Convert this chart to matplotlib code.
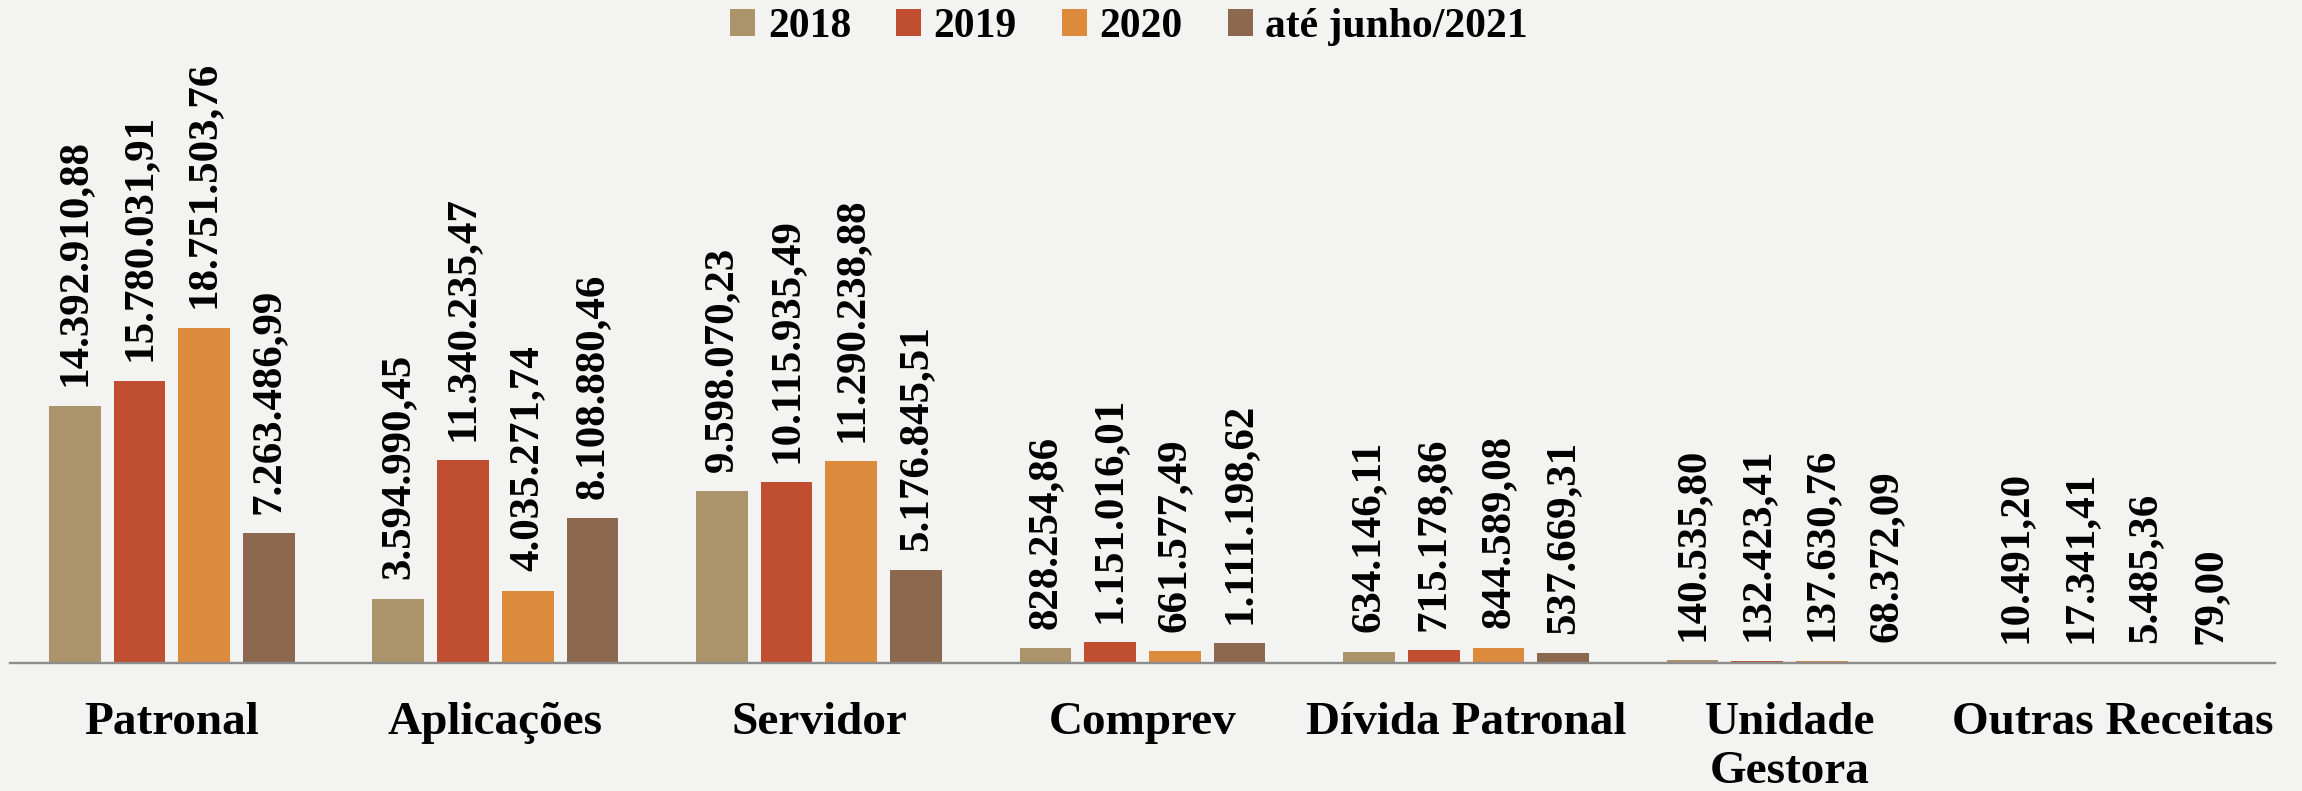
import matplotlib
matplotlib.use("Agg")
import matplotlib.pyplot as plt
import numpy as np

categories = ["Patronal", "Aplicações", "Servidor", "Comprev", "Dívida Patronal",
              "Unidade\nGestora", "Outras Receitas"]
series_names = ["2018", "2019", "2020", "até junho/2021"]
v2018 = [14392910.88, 3594990.45, 9598070.23, 828254.86, 634146.11, 140535.80, 10491.20]
v2019 = [15780031.91, 11340235.47, 10115935.49, 1151016.01, 715178.86, 132423.41, 17341.41]
v2020 = [18751503.76, 4035271.74, 11290238.88, 661577.49, 844589.08, 137630.76, 5485.36]
v2021 = [7263486.99, 8108880.46, 5176845.51, 1111198.62, 537669.31, 68372.09, 79.00]
colors = ["#AC946A", "#C04F32", "#DC8A3C", "#8C694E"]

series = [v2018, v2019, v2020, v2021]

def fmt_br(v):
    s = f"{v:,.2f}"
    return s.replace(",", "X").replace(".", ",").replace("X", ".")

W, H = 2302, 791
fig = plt.figure(figsize=(W / 100, H / 100), dpi=100)
bg = "#F3F3F1"
fig.patch.set_facecolor(bg)

font = "Liberation Serif"
plt.rcParams["font.family"] = [font, "DejaVu Serif"]
plt.rcParams["font.weight"] = "bold"

left_px, right_px, base_px, top_px = 10, 2275, 663, 60
ax = fig.add_axes([left_px / W, 1 - base_px / H, (right_px - left_px) / W, (base_px - top_px) / H])
ax.set_facecolor(bg)
ax.patch.set_alpha(0)

n = len(categories)
x = np.arange(n) + 0.5
bw = 0.16
step = 0.2
for j, (vals, name, c) in enumerate(zip(series, series_names, colors)):
    xs = x + (j - 1.5) * step
    ax.bar(xs, vals, width=bw, color=c, label=name, zorder=2)
    for xi, v in zip(xs, vals):
        ax.annotate(fmt_br(v), (xi, v), xytext=(0, 14), textcoords="offset points",
                    rotation=90, ha="center", va="bottom", fontsize=31,
                    fontweight="bold", color="black", family=font)

ax.set_xlim(0, n)
ax.set_ylim(0, (base_px - top_px) / 17.88 * 1e6)
ax.set_yticks([])
ax.set_xticks(x)
ax.set_xticklabels(categories, fontsize=34, fontweight="bold", family=font, linespacing=1.22)
ax.tick_params(axis="x", length=0, pad=28)
for s in ["top", "right", "left"]:
    ax.spines[s].set_visible(False)
ax.spines["bottom"].set_color("#8C8C8C")
ax.spines["bottom"].set_linewidth(1.7)
ax.spines["bottom"].set_zorder(3)

fig.legend(loc="center", bbox_to_anchor=(0.5 - 22 / W, 1 - 27 / H), ncol=4, frameon=False,
           prop={"family": font, "weight": "bold", "size": 30},
           handlelength=0.6, handleheight=0.6, handletextpad=0.3,
           columnspacing=1.08, borderaxespad=0)

fig.savefig("out.png", dpi=100, facecolor=bg)
